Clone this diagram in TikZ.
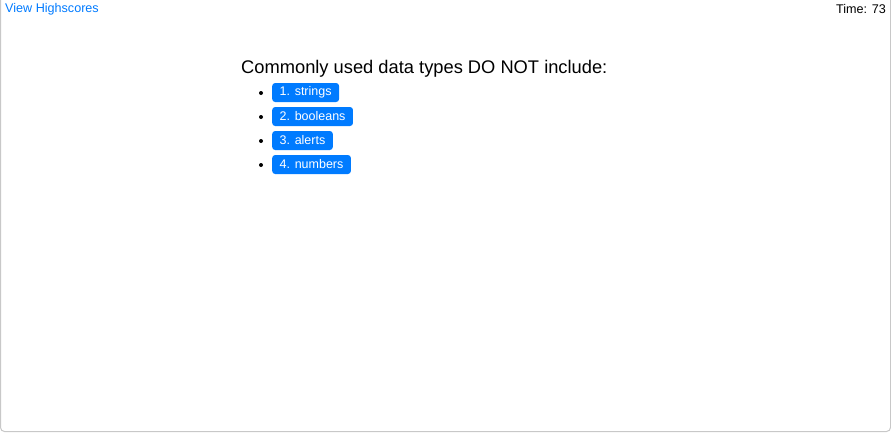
\documentclass[tikz,border=0pt]{standalone}
\usepackage{fontspec}
\setmainfont{Liberation Sans}
\definecolor{bsblue}{HTML}{007BFF}
\definecolor{frame}{HTML}{C8C8C8}
\begin{document}
\begin{tikzpicture}[x=1pt,y=-1pt,
  btn/.style={fill=bsblue, text=white, rounded corners=3pt, anchor=west,
    inner xsep=7.5pt, inner ysep=0pt, minimum height=19pt, font=\fontsize{12.5}{14}\selectfont},
  bul/.style={circle, fill=black, inner sep=0pt, minimum size=4pt},
  toptext/.style={font=\fontsize{12.6}{14}\selectfont, inner sep=0pt}]
\useasboundingbox (0,0) rectangle (891,432);
\fill[white] (0,0) rectangle (891,432);
\draw[frame, line width=1pt, rounded corners=4pt] (0.5,-2) -- (0.5,431.5) -- (890.5,431.5) -- (890.5,-2);
\node[toptext, text=bsblue, anchor=west] (hs) at (5,9) {View Highscores};
\node[toptext, anchor=east] (time) at (886,9) {Time: 73};
\node[font=\fontsize{18.3}{20}\selectfont, anchor=base west, inner sep=0pt] (q) at (241,73) {Commonly used data types DO NOT include:};
\node[btn] (a1) at (272,92.5) {1. strings};
\node[btn] (a2) at (272,116.5) {2. booleans};
\node[btn] (a3) at (272,140.5) {3. alerts};
\node[btn] (a4) at (272,164.5) {4. numbers};
\node[bul] (b1) at (261,93) {};
\node[bul] (b2) at (261,117) {};
\node[bul] (b3) at (261,141) {};
\node[bul] (b4) at (261,165) {};
\end{tikzpicture}
\end{document}
